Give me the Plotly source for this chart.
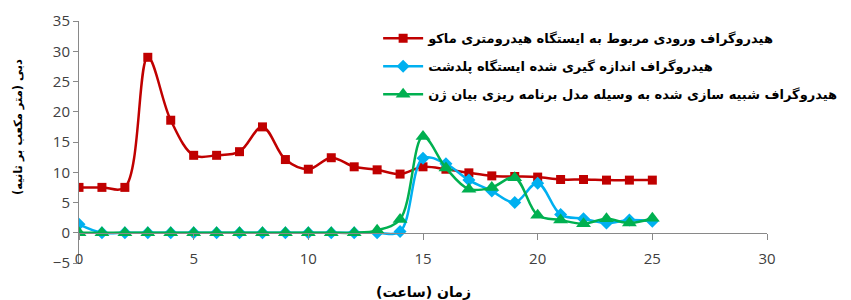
import plotly.graph_objects as go

hours = list(range(0, 26))
inflow_mako = [7.5, 7.5, 7.5, 29.0, 18.6, 12.8, 12.8, 13.4, 17.5, 12.1, 10.5, 12.4, 10.9,
               10.4, 9.7, 10.9, 10.5, 9.9, 9.4, 9.3, 9.2, 8.8, 8.8, 8.7, 8.7, 8.7]
measured_poldasht = [1.4, 0, 0, 0, 0, 0, 0, 0, 0, 0, 0, 0, 0,
                     0, 0.2, 12.3, 11.4, 8.7, 6.9, 5.0, 8.2, 3.0, 2.3, 1.6, 2.1, 1.9]
simulated_gp = [0, 0, 0, 0, 0, 0, 0, 0, 0, 0, 0, 0, 0,
                0.4, 2.2, 15.9, 10.7, 7.2, 7.5, 9.1, 2.9, 2.1, 1.5, 2.3, 1.6, 2.4]

names = [
    "هیدروگراف ورودی مربوط به ایستگاه هیدرومتری ماکو",
    "هیدروگراف اندازه گیری شده ایستگاه پلدشت",
    "هیدروگراف شبیه سازی شده به وسیله مدل برنامه ریزی بیان ژن",
]
x_title = "زمان (ساعت)"
y_title = "دبی (متر مکعب بر ثانیه)"
x_ticks = [0, 5, 10, 15, 20, 25, 30]
y_ticks = [-5, 0, 5, 10, 15, 20, 25, 30, 35]

fig = go.Figure()
fig.add_trace(go.Scatter(
    x=hours, y=inflow_mako, name=names[0], mode="lines+markers", legendgroup="a",
    line=dict(color="#C00000", width=2.5, shape="spline", smoothing=1),
    marker=dict(symbol="square", size=9, color="#C00000")))
fig.add_trace(go.Scatter(
    x=hours, y=measured_poldasht, name=names[1], mode="lines+markers", legendgroup="b",
    line=dict(color="#00B0F0", width=2.5, shape="spline", smoothing=1),
    marker=dict(symbol="diamond", size=10, color="#00B0F0")))
fig.add_trace(go.Scatter(
    x=hours, y=simulated_gp, name=names[2], mode="lines+markers", legendgroup="c",
    line=dict(color="#00B050", width=2.5, shape="spline", smoothing=1),
    marker=dict(symbol="triangle-up", size=13, color="#00B050")))

# The page body has an 8px margin, so the figure is 8px smaller than the window.
PW = 687.7  # plot-area width in px
PH = 242.0  # plot-area height in px
tick_font = dict(family="Open Sans", size=15, color="#404040")
fig.update_layout(
    width=843, height=292,
    margin=dict(l=71, r=84, t=13, b=37, autoexpand=False),
    paper_bgcolor="white", plot_bgcolor="white",
    showlegend=True,
    legend=dict(x=(378 - 79) / PW, y=0.99, xanchor="left", yanchor="top",
                font=dict(family="DejaVu Sans", size=13, color="black", weight="bold"),
                bgcolor="rgba(0,0,0,0)", tracegroupgap=8, itemwidth=40),
    xaxis=dict(range=[0, 30], tickvals=x_ticks, showgrid=False, zeroline=False,
               showline=True, linecolor="#898989", linewidth=1,
               ticks="outside", ticklen=6, tickcolor="#898989",
               anchor="free", position=0.125, tickfont=tick_font,
               ticklabelstandoff=6, automargin=False),
    yaxis=dict(range=[-5, 35], tickvals=y_ticks, showgrid=False, zeroline=False,
               showline=True, linecolor="#898989", linewidth=1,
               ticks="outside", ticklen=5, tickcolor="#898989",
               tickfont=tick_font, automargin=False),
    annotations=[
        dict(text="<b>" + x_title + "</b>", xref="paper", yref="paper",
             x=0.5, y=(263 - 292) / PH, xanchor="center", yanchor="middle", showarrow=False,
             font=dict(family="DejaVu Sans", size=14, color="black")),
        dict(text="<b>" + y_title + "</b>", xref="paper", yref="paper",
             x=(18 - 79) / PW, y=(263 - 127) / PH, xanchor="center", yanchor="middle",
             showarrow=False, textangle=-90,
             font=dict(family="DejaVu Sans", size=11.5, color="black")),
    ],
)

fig.write_html("out.html")
